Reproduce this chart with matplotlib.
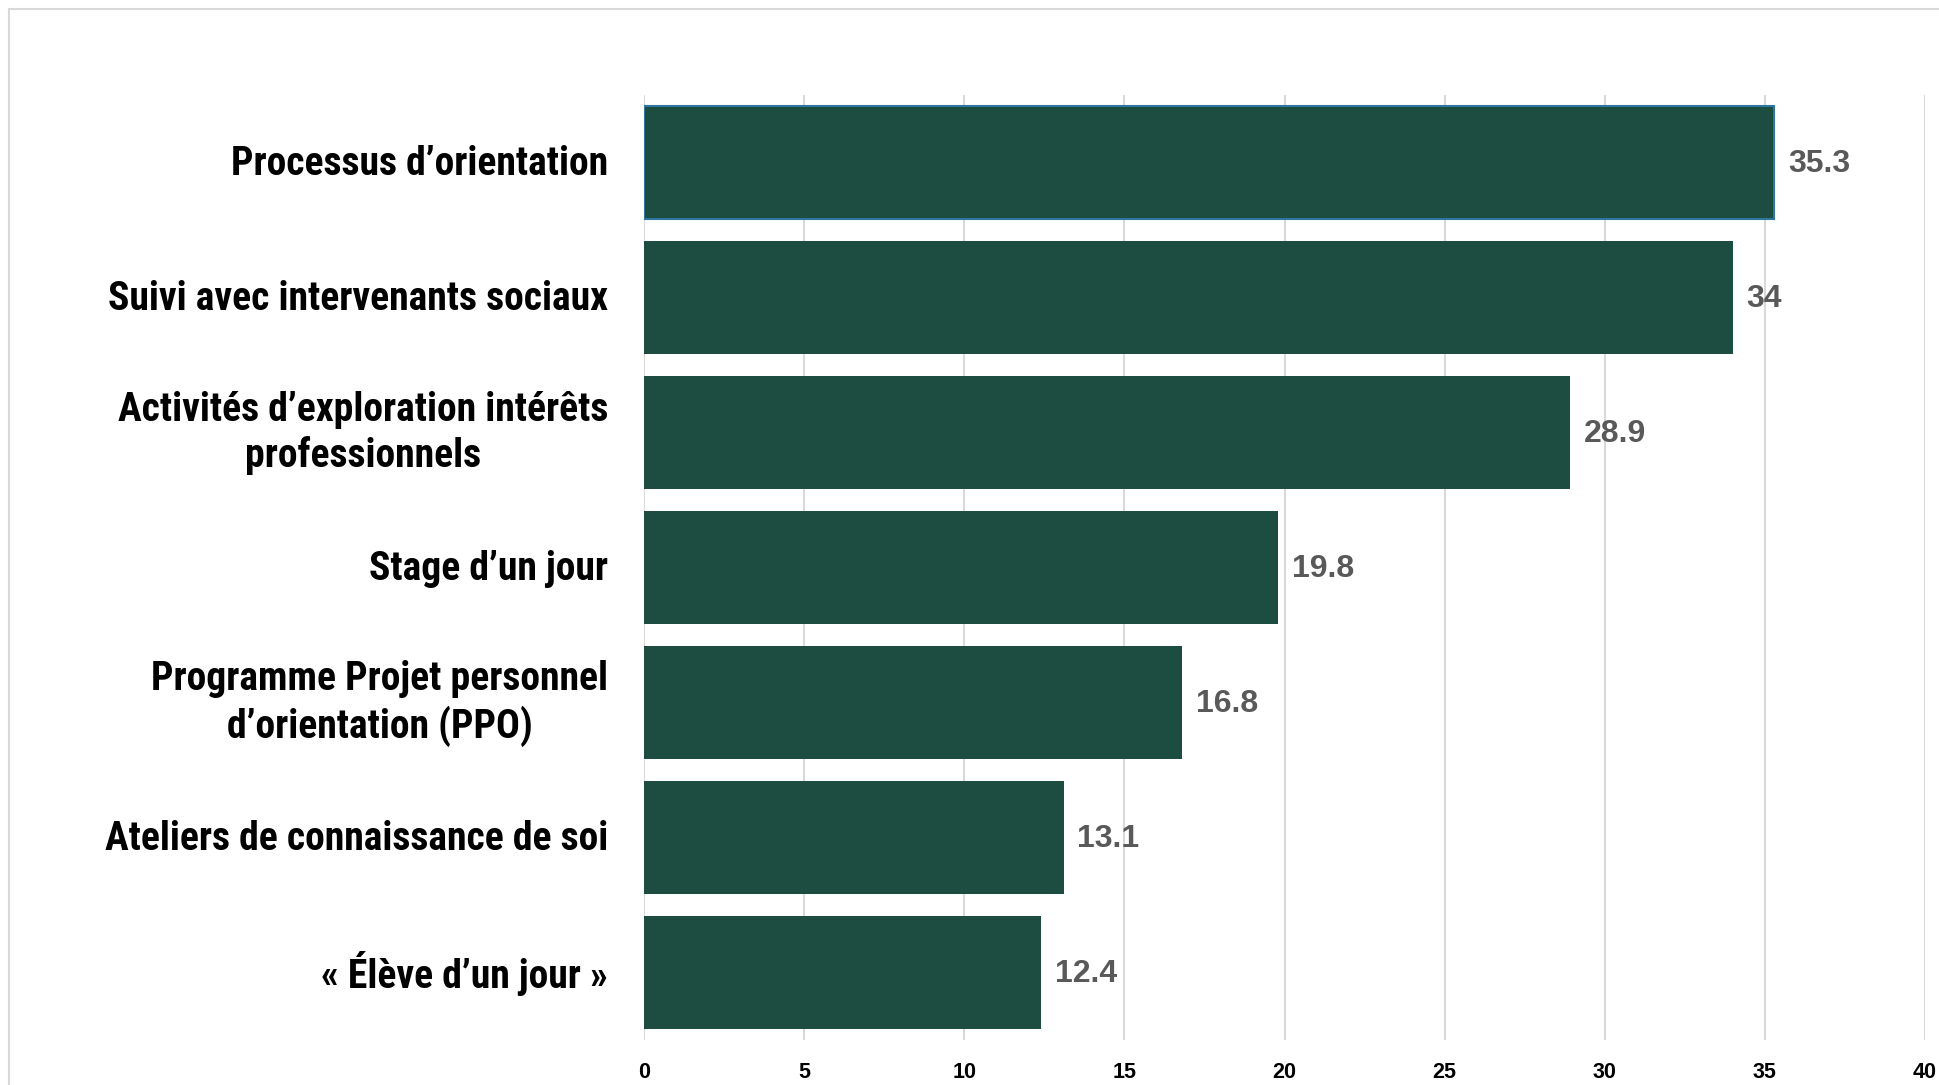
import matplotlib
matplotlib.use("Agg")
import matplotlib.pyplot as plt
from matplotlib import font_manager as fm
from matplotlib.patches import Rectangle
from matplotlib.transforms import ScaledTranslation

categories = [
    "Processus d\u2019orientation",
    "Suivi avec intervenants sociaux",
    "Activit\u00e9s d\u2019exploration int\u00e9r\u00eats\nprofessionnels",
    "Stage d\u2019un jour",
    "Programme Projet personnel\nd\u2019orientation (PPO)",
    "Ateliers de connaissance de soi",
    "\u00ab \u00c9l\u00e8ve d\u2019un jour \u00bb",
]
values = [35.3, 34, 28.9, 19.8, 16.8, 13.1, 12.4]
value_labels = ["35.3", "34", "28.9", "19.8", "16.8", "13.1", "12.4"]
xticks = [0, 5, 10, 15, 20, 25, 30, 35, 40]

names = {f.name for f in fm.fontManager.ttflist}
cond = None
for cand in ["Roboto Condensed", "Liberation Sans Narrow", "Open Sans Condensed", "DejaVu Sans Condensed"]:
    if cand in names:
        cond = cand
        break
if cond is None:
    cond = "DejaVu Sans"
num_font = "Liberation Sans" if "Liberation Sans" in names else "DejaVu Sans"

W, H = 1939, 1085
fig = plt.figure(figsize=(W / 100, H / 100), dpi=100)
fig.patch.set_facecolor("white")

# outer frame
fig.patches.append(Rectangle((9 / W, -0.1), 1.2, 1 - 9 / H + 0.1, transform=fig.transFigure,
                             fill=False, edgecolor="#D9D9D9", linewidth=1.5))

ax = fig.add_axes([644 / W, 1 - 1040 / H, (1925 - 644) / W, (1040 - 95) / H])
bar_color = "#1C4D40"
ypos = list(range(len(categories)))
bars = ax.barh(ypos, values, height=0.83, color=bar_color, zorder=3)
bars[0].set_edgecolor("#2E75A0")
bars[0].set_linewidth(1.5)

ax.set_xlim(0, 40)
ax.set_ylim(len(categories) - 0.5, -0.5)
ax.set_xticks(xticks)
ax.set_xticklabels([str(t) for t in xticks], fontfamily=num_font, fontweight="bold", fontsize=15.5, color="black")
ax.set_yticks(ypos)
ax.set_yticklabels(categories, fontfamily=cond, fontweight="bold", fontsize=28.5, color="black",
                   multialignment="center", linespacing=1.22)
ax.tick_params(axis="y", length=0, pad=26)
ax.tick_params(axis="x", length=0, pad=16)
ax.grid(axis="x", color="#D9D9D9", linewidth=1.5, zorder=0)
for s in ax.spines.values():
    s.set_visible(False)

for lab in ax.get_yticklabels():
    dy = 7 if "\n" in lab.get_text() else 3
    lab.set_transform(lab.get_transform() + ScaledTranslation(0, dy / 100, fig.dpi_scale_trans))

for y, v, lab in zip(ypos, values, value_labels):
    ax.annotate(lab, (v, y), xytext=(10, -1), textcoords="offset points", va="center", ha="left",
                fontsize=23, fontweight="bold", color="#595959", fontfamily=num_font)

fig.savefig("out.png", dpi=100)
